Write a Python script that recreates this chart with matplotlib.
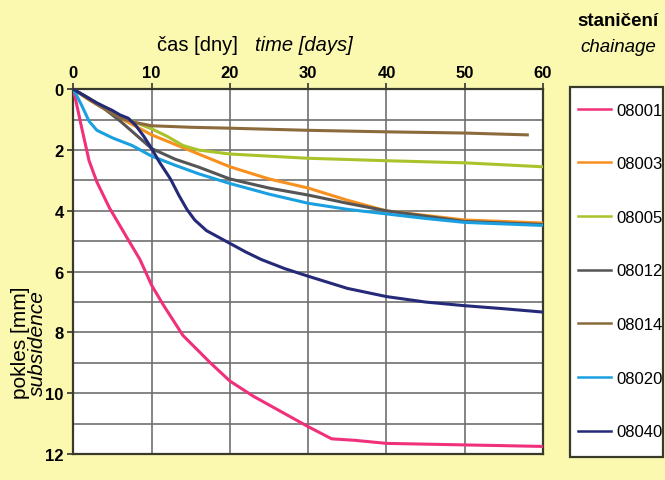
import matplotlib
matplotlib.use('Agg')
import matplotlib.pyplot as plt
from matplotlib.patches import Rectangle

plt.rcParams['font.family'] = ['Liberation Sans', 'DejaVu Sans']

# staničení / chainage -> (čas [dny], pokles [mm])
labels = ['08001', '08003', '08005', '08012', '08014', '08020', '08040']
colors = ['#f0307a', '#f7901e', '#a8c42a', '#555555', '#8b6a3c', '#1aa0e0', '#252a78']

t_08001 = [0, 1, 2, 3, 4.6, 7, 8.5, 10, 11.5, 14, 17.5, 20, 23, 26.5, 30, 33, 36, 40, 50, 60]
s_08001 = [0, 1.2, 2.35, 3.05, 3.9, 4.95, 5.6, 6.45, 7.1, 8.1, 9.0, 9.6, 10.1, 10.6, 11.1, 11.5, 11.55, 11.65, 11.7, 11.75]

t_08003 = [0, 2, 3.4, 6, 10, 16, 20, 25, 30, 35, 40, 45, 50, 60]
s_08003 = [0, 0.35, 0.55, 0.95, 1.5, 2.13, 2.55, 2.95, 3.25, 3.65, 4.0, 4.15, 4.3, 4.4]

t_08005 = [0, 3, 5, 8, 10, 12, 14, 16, 20, 25, 30, 40, 50, 60]
s_08005 = [0, 0.45, 0.75, 1.1, 1.3, 1.55, 1.85, 2.0, 2.13, 2.2, 2.27, 2.35, 2.42, 2.55]

t_08012 = [0, 2, 4, 6, 8, 10, 13, 16, 20, 25, 30, 35, 40, 50, 60]
s_08012 = [0, 0.3, 0.65, 1.05, 1.5, 1.95, 2.3, 2.56, 2.95, 3.25, 3.48, 3.75, 4.0, 4.35, 4.45]

t_08014 = [0, 3, 6, 8, 10, 15, 20, 30, 40, 50, 58]
s_08014 = [0, 0.5, 0.95, 1.1, 1.2, 1.25, 1.28, 1.35, 1.4, 1.44, 1.5]

t_08020 = [0, 1, 2, 3, 5, 7.5, 10, 13, 16, 20, 25, 30, 35, 40, 45, 50, 60]
s_08020 = [0, 0.5, 1.05, 1.35, 1.6, 1.85, 2.2, 2.5, 2.78, 3.1, 3.45, 3.75, 3.95, 4.1, 4.25, 4.38, 4.48]

t_08040 = [0, 3, 5, 6, 7, 8, 9, 10, 11, 12.4, 13.5, 14.5, 15.5, 17, 19.5, 22, 24, 27, 30, 35, 40, 45, 50, 55, 60]
s_08040 = [0, 0.45, 0.7, 0.85, 0.95, 1.2, 1.55, 1.95, 2.4, 2.95, 3.5, 3.95, 4.3, 4.65, 5.0, 5.35, 5.6, 5.9, 6.15, 6.55, 6.82, 7.0, 7.12, 7.22, 7.33]

times = [t_08001, t_08003, t_08005, t_08012, t_08014, t_08020, t_08040]
subs = [s_08001, s_08003, s_08005, s_08012, s_08014, s_08020, s_08040]

x_ticks = [0, 10, 20, 30, 40, 50, 60]
y_ticks = [0, 2, 4, 6, 8, 10, 12]

fig = plt.figure(figsize=(6.65, 4.81), dpi=100, facecolor='#fbf8b0')
ax = fig.add_axes([0.1104, 0.054, 0.7061, 0.7583])
ax.set_facecolor('white')

handles = []
for t, s, c, lab in zip(times, subs, colors, labels):
    h, = ax.plot(t, s, color=c, lw=2.2, label=lab, zorder=3)
    handles.append(h)

ax.set_xlim(0, 60)
ax.set_ylim(12, 0)
ax.xaxis.tick_top()
ax.set_xticks(x_ticks)
ax.set_yticks(y_ticks)
ax.set_yticks(range(0, 13), minor=True)
ax.grid(True, which='both', color='#6f6f6f', lw=1.2, zorder=1)
ax.tick_params(axis='both', which='major', labelsize=12, length=4, width=1.2, color='#333333', pad=3)
ax.tick_params(axis='y', which='minor', length=0)
for lbl in ax.get_xticklabels() + ax.get_yticklabels():
    lbl.set_fontweight('bold')
for sp in ax.spines.values():
    sp.set_color('#3a3a2a')
    sp.set_linewidth(1.6)

fig.text(0.358, 0.906, 'čas [dny]', fontsize=14.5, ha='right', va='center')
fig.text(0.383, 0.906, 'time [days]', fontsize=14.5, style='italic', ha='left', va='center')
fig.text(0.031, 0.287, 'pokles [mm]', fontsize=15, rotation=90, ha='center', va='center')
fig.text(0.057, 0.287, 'subsidence', fontsize=15, style='italic', rotation=90, ha='center', va='center')

fig.text(0.930, 0.956, 'staničení', fontsize=13.5, fontweight='bold', ha='center', va='center')
fig.text(0.930, 0.901, 'chainage', fontsize=13.5, style='italic', ha='center', va='center')

# legend frame
fig.patches.append(Rectangle((570 / 665, 1 - 458 / 481), 93 / 665, 370 / 481,
                             transform=fig.transFigure, facecolor='white',
                             edgecolor='#3a3a2a', lw=1.6, zorder=0))

leg = fig.legend(handles=handles, labels=labels, loc='center left',
                 bbox_to_anchor=(578 / 665, 1 - 272 / 481),
                 fontsize=12, labelspacing=2.32, borderpad=0,
                 handlelength=2.0, handletextpad=0.3, frameon=False,
                 borderaxespad=0)
for line in leg.get_lines():
    line.set_linewidth(1.8)

fig.savefig('out.png', dpi=100, facecolor=fig.get_facecolor())
